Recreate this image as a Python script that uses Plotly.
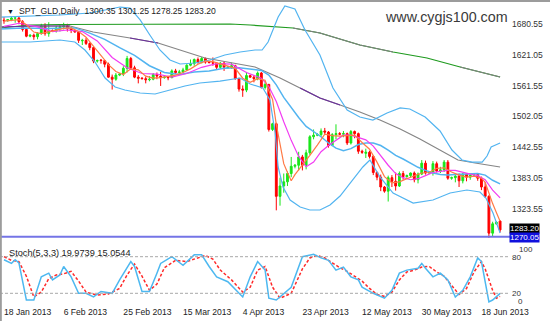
import plotly.graph_objects as go

FONT = "Liberation Sans"
W, H = 550, 321

# ---------------- data ----------------
tick_bars = [0, 16, 32, 48, 64, 80, 96, 112, 128]
tick_dates = ["18 Jan 2013", "6 Feb 2013", "25 Feb 2013", "15 Mar 2013", "4 Apr 2013",
              "23 Apr 2013", "12 May 2013", "30 May 2013", "18 Jun 2013"]

bars = list(range(134))
opens = [1688, 1687, 1689, 1692, 1692, 1685, 1670, 1657, 1659, 1656,
         1662, 1677, 1662, 1668, 1667, 1673, 1675, 1677, 1671, 1668,
         1665, 1648, 1649, 1643, 1635, 1609, 1611, 1610, 1603, 1578,
         1574, 1582, 1584, 1595, 1614, 1596, 1578, 1576, 1575, 1573,
         1574, 1583, 1580, 1577, 1578, 1577, 1590, 1587, 1588, 1592,
         1601, 1604, 1612, 1606, 1614, 1607, 1606, 1605, 1597, 1605,
         1596, 1597, 1600, 1575, 1555, 1553, 1581, 1578, 1575, 1586,
         1558, 1564, 1477, 1488, 1348, 1368, 1376, 1392, 1406, 1408,
         1424, 1408, 1432, 1463, 1466, 1467, 1474, 1472, 1446, 1467,
         1469, 1468, 1469, 1451, 1473, 1469, 1435, 1431, 1433, 1425,
         1394, 1385, 1366, 1358, 1384, 1377, 1368, 1392, 1386, 1388,
         1393, 1380, 1391, 1412, 1393, 1395, 1411, 1397, 1399, 1414,
         1383, 1384, 1387, 1378, 1391, 1385, 1389, 1390, 1383, 1366,
         1348, 1277, 1295, 1300.35]
highs = [1694, 1690, 1695, 1696, 1694, 1688, 1672, 1660, 1662, 1665,
         1681, 1682, 1684, 1670, 1677, 1680, 1683, 1681, 1675, 1669,
         1667, 1652, 1654, 1645, 1637, 1612, 1613, 1611, 1606, 1583,
         1586, 1586, 1599, 1619, 1617, 1600, 1582, 1578, 1579, 1580,
         1586, 1587, 1588, 1580, 1580, 1593, 1594, 1592, 1596, 1603,
         1612, 1614, 1616, 1617, 1616, 1609, 1616, 1607, 1607, 1608,
         1599, 1606, 1602, 1577, 1562, 1588, 1583, 1582, 1589, 1588,
         1568, 1565, 1490, 1490, 1384, 1392, 1396, 1424, 1410, 1434,
         1428, 1438, 1466, 1477, 1470, 1479, 1480, 1474, 1470, 1487,
         1472, 1474, 1471, 1476, 1475, 1471, 1438, 1440, 1436, 1427,
         1396, 1390, 1368, 1388, 1389, 1394, 1396, 1397, 1390, 1394,
         1396, 1394, 1418, 1417, 1396, 1416, 1415, 1405, 1418, 1418,
         1386, 1389, 1392, 1393, 1393, 1392, 1393, 1393, 1386, 1375,
         1350, 1299, 1300, 1301.25]
lows = [1681, 1685, 1686, 1683, 1680, 1666, 1655, 1655, 1650, 1651,
        1660, 1658, 1656, 1666, 1664, 1666, 1670, 1666, 1663, 1664,
        1644, 1640, 1640, 1630, 1605, 1606, 1604, 1597, 1577, 1554,
        1571, 1580, 1580, 1587, 1592, 1576, 1566, 1574, 1566, 1570,
        1572, 1574, 1561, 1575, 1572, 1576, 1584, 1583, 1586, 1591,
        1599, 1600, 1604, 1605, 1604, 1605, 1600, 1592, 1594, 1590,
        1595, 1594, 1573, 1550, 1540, 1549, 1577, 1568, 1572, 1556,
        1554, 1473, 1474, 1321, 1330, 1355, 1368, 1385, 1402, 1398,
        1398, 1400, 1428, 1458, 1464, 1463, 1467, 1442, 1445, 1458,
        1466, 1462, 1447, 1448, 1460, 1430, 1430, 1422, 1421, 1389,
        1379, 1358, 1355, 1338, 1366, 1359, 1366, 1380, 1384, 1384,
        1375, 1373, 1389, 1390, 1391, 1388, 1394, 1393, 1395, 1380,
        1380, 1375, 1366, 1373, 1377, 1380, 1387, 1378, 1360, 1345,
        1268, 1270, 1293, 1278.25]
closes = [1687, 1689, 1692, 1692, 1685, 1670, 1657, 1659, 1656, 1662,
          1677, 1662, 1668, 1667, 1673, 1675, 1677, 1671, 1668, 1665,
          1649, 1649, 1643, 1635, 1609, 1610, 1610, 1603, 1578, 1574,
          1582, 1584, 1595, 1614, 1596, 1578, 1576, 1575, 1573, 1574,
          1583, 1580, 1577, 1578, 1577, 1590, 1587, 1588, 1592, 1601,
          1604, 1612, 1606, 1614, 1607, 1606, 1605, 1597, 1605, 1597,
          1597, 1600, 1575, 1555, 1553, 1581, 1578, 1575, 1586, 1558,
          1564, 1477, 1488, 1348, 1368, 1376, 1392, 1406, 1408, 1424,
          1408, 1432, 1463, 1466, 1467, 1474, 1472, 1446, 1467, 1469,
          1468, 1469, 1451, 1473, 1469, 1435, 1433, 1433, 1425, 1394,
          1385, 1366, 1358, 1384, 1377, 1368, 1392, 1386, 1388, 1393,
          1380, 1391, 1412, 1393, 1395, 1411, 1397, 1399, 1414, 1383,
          1384, 1387, 1378, 1391, 1385, 1389, 1390, 1383, 1366, 1348,
          1277, 1295, 1298, 1283.20]

price_ticks = [1680.55, 1621.05, 1561.55, 1502.05, 1442.55, 1383.05, 1323.55]
last_close = 1283.20
hline_price = 1270.05

# orange fast MA
fast_x = [0, 2, 4, 6, 8, 10, 12, 14, 16, 18, 20, 22, 24, 26, 28, 30, 32, 34, 36, 38, 40, 42, 44, 46,
          48, 50, 52, 54, 56, 58, 60, 62, 64, 66, 68, 70, 71, 72, 73, 74, 75, 76, 77, 78, 80, 82, 84,
          86, 88, 90, 92, 94, 96, 98, 100, 102, 104, 106, 108, 110, 112, 114, 116, 118, 120, 122,
          124, 126, 128, 129, 130, 131, 132, 133]
fast_y = [1686, 1688, 1689, 1679, 1665, 1662, 1665, 1669, 1672, 1673, 1666, 1655, 1637, 1621, 1602,
          1589, 1583, 1594, 1592, 1580, 1576, 1577, 1579, 1582, 1587, 1594, 1603, 1609, 1608, 1604,
          1600, 1595, 1576, 1568, 1575, 1572, 1552, 1535, 1487, 1449, 1411, 1394, 1378, 1390, 1408,
          1427, 1447, 1468, 1465, 1464, 1465, 1466, 1452, 1439, 1414, 1386, 1374, 1376, 1382, 1388,
          1393, 1394, 1402, 1403, 1395, 1389, 1385, 1387, 1383, 1375, 1353, 1334, 1317, 1300]

# magenta MA
mid_x = [0, 4, 9, 13, 17, 21, 25, 29, 33, 37, 41, 45, 49, 53, 57, 61, 65, 69, 71, 73, 75, 77, 79,
         81, 83, 85, 87, 89, 91, 93, 95, 97, 99, 101, 103, 105, 107, 109, 111, 113, 115, 117, 119,
         121, 123, 125, 127, 129, 131, 133]
mid_y = [1676, 1682, 1675, 1666, 1669, 1666, 1648, 1616, 1596, 1585, 1584, 1578, 1585, 1597, 1604,
         1603, 1587, 1576, 1560, 1531, 1492, 1456, 1425, 1405, 1414, 1434, 1446, 1456, 1466, 1466,
         1462, 1457, 1445, 1426, 1408, 1392, 1384, 1380, 1382, 1388, 1394, 1396, 1398, 1398, 1394,
         1391, 1388, 1380, 1360, 1345]

# Bollinger bands
bbm_x = [-1, 5, 12, 19, 23, 27, 31, 35, 39, 43, 47, 51, 55, 59, 63, 67, 69, 71, 73, 75, 77, 79, 81,
         83, 85, 87, 89, 91, 93, 95, 97, 99, 101, 103, 105, 107, 109, 111, 113, 115, 117, 119, 121,
         123, 125, 127, 129, 131, 133]
bbm_y = [1671, 1673, 1672, 1673, 1663, 1651, 1635, 1620, 1600, 1587, 1583, 1588, 1590, 1595, 1596,
         1593, 1591, 1582, 1563, 1539, 1519, 1500, 1483, 1473, 1463, 1451, 1441, 1436, 1440, 1448,
         1451, 1451, 1446, 1437, 1427, 1420, 1412, 1404, 1398, 1393, 1390, 1389, 1390, 1391, 1392,
         1392, 1389, 1379, 1372]
bbu_x = [-1.07, 7.0, 15.0, 23.1, 27.1, 31.1, 33.8, 36.5, 39.1, 41.8, 44.5, 47.2, 51.2, 55.2, 59.2,
         63.3, 67.3, 69.2, 70.8, 72.1, 73.5, 75.3, 78.0, 80.7, 84.7, 88.2, 92.0, 95.4, 98.9, 102.7,
         106.2, 108.8, 112.9, 116.9, 120.1, 122.8, 125.5, 128.2, 129.5, 130.6, 133.0]
bbu_y = [1694.0, 1696.0, 1697.9, 1701.8, 1707.6, 1713.3, 1711.4, 1688.3, 1659.3, 1630.4, 1611.1,
         1603.4, 1605.3, 1611.1, 1620.7, 1626.5, 1630.4, 1630.4, 1645.8, 1669.0, 1694.0, 1715.3,
         1709.5, 1669.0, 1620.7, 1557.0, 1514.6, 1501.1, 1495.3, 1508.8, 1518.5, 1516.5, 1501.1,
         1474.1, 1437.4, 1418.1, 1414.2, 1414.2, 1425.8, 1443.2, 1450.9]
bbl_x = [-1.07, 7.0, 15.0, 19.0, 21.7, 24.4, 27.1, 29.8, 32.4, 36.5, 40.5, 44.5, 48.5, 52.5, 57.9,
         63.3, 66.0, 69.4, 71.3, 72.7, 73.5, 74.8, 76.7, 79.4, 82.0, 84.7, 87.4, 90.1, 93.6, 96.2,
         98.1, 100.8, 104.3, 109.7, 115.0, 119.6, 124.1, 127.6, 129.2, 131.1, 133.0]
bbl_y = [1645.8, 1645.8, 1649.7, 1645.8, 1630.4, 1607.2, 1576.3, 1559.0, 1553.2, 1547.4, 1545.5,
         1553.2, 1560.9, 1566.7, 1570.5, 1576.3, 1564.8, 1557.0, 1533.9, 1470.2, 1404.6, 1366.0,
         1340.9, 1327.4, 1321.6, 1321.6, 1331.3, 1348.6, 1379.5, 1404.6, 1418.1, 1385.3, 1354.4,
         1335.1, 1340.9, 1354.4, 1360.2, 1356.4, 1344.8, 1315.8, 1277.2]

# slow MA (gray / purple)
slow_x = [-1.07, 8.3, 17.7, 23.9, 33.8, 41.3, 53.9, 67.3, 74.0, 79.4, 84.7, 90.1, 95.4, 100.8,
          106.2, 111.5, 116.9, 121.7, 126.3, 133.0]
slow_y = [1674.8, 1676.7, 1676.7, 1665.1, 1653.5, 1643.9, 1614.9, 1597.6, 1576.3, 1557.0, 1537.7,
          1524.2, 1510.7, 1495.3, 1477.9, 1458.6, 1437.4, 1418.1, 1412.3, 1404.6]
slow_purple = [(0, 2), (4, 5), (9, 11)]

# long MA (green / gray)
long_x = [-1.07, 7.0, 15.0, 33.8, 41.3, 60.6, 66.0, 77.5, 84.7, 90.9, 95.4, 104.3, 113.4, 122.3, 133.0]
long_y = [1672.8, 1678.6, 1679.6, 1679.6, 1680.5, 1680.5, 1678.6, 1672.8, 1663.2, 1649.7, 1640.0,
          1626.5, 1614.9, 1597.6, 1578.3]
long_gray = [(7, 11), (13, 14)]

# stochastic
stoch_k_x = [0, 2, 3, 4, 6, 8, 10, 12, 13, 15, 16, 18, 20, 22, 24, 26, 29, 31, 34, 35, 37, 39, 41,
             42, 45, 48, 51, 53, 55, 57, 60, 64, 66, 68, 70, 71, 73, 77, 80, 83, 85, 87, 89, 91, 93,
             95, 96, 99, 102, 104, 106, 108, 111, 112, 113, 115, 117, 119, 121, 123, 125, 127, 128,
             130, 131, 133]
stoch_k = [75, 69, 75, 70, 9, 9, 47, 53, 42, 50, 64, 47, 20, 20, 14, 23, 20, 42, 72, 64, 23, 23, 53,
           69, 80, 66, 83, 83, 64, 47, 39, 14, 47, 72, 58, 12, 9, 30, 80, 84, 78, 74, 58, 63, 47, 42,
           30, 20, 12, 25, 53, 58, 61, 69, 61, 47, 53, 42, 14, 25, 47, 78, 72, 6, 9, 19.9739]
stoch_d_x = [0, 2, 4, 6, 8, 10, 12, 14, 16, 18, 20, 22, 25, 28, 31, 33, 35, 37, 39, 41, 43, 46, 49,
             52, 54, 56, 58, 61, 64, 66, 68, 70, 72, 74, 77, 80, 82, 84, 86, 88, 90, 92, 94, 96, 98,
             100, 102, 104, 106, 108, 110, 112, 114, 116, 118, 120, 122, 124, 126, 128, 129, 131,
             132, 133]
stoch_d = [80, 74, 72, 48, 14, 22, 44, 50, 52, 56, 40, 22, 17, 19, 28, 50, 68, 48, 25, 35, 62, 74,
           72, 78, 82, 76, 58, 42, 22, 30, 58, 64, 30, 12, 20, 60, 78, 82, 78, 70, 62, 56, 48, 40,
           28, 18, 15, 22, 42, 55, 58, 63, 64, 55, 48, 32, 18, 28, 55, 72, 60, 25, 12, 15.0544]

# ---------------- figure ----------------
BB_COL = "#52B4F0"
fig = go.Figure()


def px_x(p):
    return p / W


def px_y(p):
    return 1 - p / H


def line(x, y, color, width=1.2, xa="x", ya="y", dash=None):
    fig.add_trace(go.Scatter(x=x, y=y, mode="lines", xaxis=xa, yaxis=ya, hoverinfo="skip",
                             line=dict(color=color, width=width, dash=dash), showlegend=False))


line(long_x, long_y, "#1E9A1E")
for a, b in long_gray:
    line(long_x[a:b + 1], long_y[a:b + 1], "#7f7f7f")
line(slow_x, slow_y, "#858585")
for a, b in slow_purple:
    line(slow_x[a:b + 1], slow_y[a:b + 1], "#6B2E9C")
line(bbu_x, bbu_y, BB_COL)
line(bbl_x, bbl_y, BB_COL)
line(bbm_x, bbm_y, BB_COL, 1.5)
line(mid_x, mid_y, "#F23CF2")
line(fast_x, fast_y, "#FF7A45")

fig.add_trace(go.Candlestick(
    x=bars, open=opens, high=highs, low=lows, close=closes, xaxis="x", yaxis="y",
    increasing=dict(line=dict(color="#19E619", width=1), fillcolor="#19E619"),
    decreasing=dict(line=dict(color="#FF0000", width=1), fillcolor="#FF0000"),
    whiskerwidth=0, hoverinfo="skip", showlegend=False))

line(stoch_d_x, stoch_d, "#FF2A2A", 1.5, "x2", "y2", "3px,2px")
line(stoch_k_x, stoch_k, "#4DB8F0", 1.5, "x2", "y2")

XDOM = [0, 508 / W]
XR = [-1.07, 135.12]
fig.update_layout(
    width=W, height=H, margin=dict(l=0, r=0, t=0, b=0, autoexpand=False),
    paper_bgcolor="white", plot_bgcolor="white",
    font=dict(family=FONT, size=8.5, color="#222"),
    showlegend=False,
    xaxis=dict(domain=XDOM, range=XR, anchor="y", showticklabels=False, showgrid=False,
               zeroline=False, showline=False, rangeslider=dict(visible=False), fixedrange=True,
               automargin=False),
    yaxis=dict(domain=[px_y(238), px_y(2)], range=[1267.6, 1723.0], side="right", anchor="x",
               tickvals=price_ticks, ticktext=[f"{v:.2f}" for v in price_ticks],
               showgrid=False, zeroline=False, ticks="", ticklabelstandoff=3,
               tickfont=dict(size=8.5, color="#333"), automargin=False),
    xaxis2=dict(domain=XDOM, range=XR, anchor="y2", matches="x", showgrid=False, zeroline=False,
                tickvals=tick_bars, ticktext=tick_dates, ticks="", ticklabelposition="outside right",
                tickangle=0, tickfont=dict(size=8.6, color="#222"), rangeslider=dict(visible=False),
                automargin=False),
    yaxis2=dict(domain=[px_y(305.5), px_y(244.5)], range=[0, 100], side="right", anchor="x2",
                tickvals=[20, 80], ticktext=["20", "80"], showgrid=False, zeroline=False,
                ticks="", ticklabelstandoff=3, tickfont=dict(size=8, color="#333"),
                automargin=False),
)

shapes = []
for lv in (20, 80):
    shapes.append(dict(type="line", xref="x2 domain", yref="y2", x0=0, x1=1.004, y0=lv, y1=lv,
                       line=dict(color="#A8A8A8", width=1, dash="3px,2px")))
shapes.append(dict(type="line", xref="x domain", yref="y", x0=0, x1=1.005, y0=hline_price,
                   y1=hline_price, line=dict(color="#7474E6", width=2)))
shapes.append(dict(type="line", xref="paper", yref="paper", x0=0.0015, x1=0.0015, y0=0, y1=1,
                   line=dict(color="#9C9C9C", width=2)))
shapes.append(dict(type="line", xref="paper", yref="paper", x0=0, x1=1, y0=1 - 1 / H, y1=1 - 1 / H,
                   line=dict(color="#9C9C9C", width=2)))
fig.update_layout(shapes=shapes)

ann = []
ann.append(dict(xref="paper", yref="paper", x=px_x(5), y=px_y(11), xanchor="left", yanchor="middle",
                text="▼", showarrow=False, font=dict(size=7, color="#111")))
ann.append(dict(xref="paper", yref="paper", x=px_x(17), y=px_y(11), xanchor="left", yanchor="middle",
                text="SPT_GLD,Daily&nbsp;&nbsp;" + " ".join(f"{v:.2f}" for v in
                                                       (opens[-1], highs[-1], lows[-1], closes[-1])),
                showarrow=False, font=dict(size=8.6, color="#222")))
ann.append(dict(xref="paper", yref="paper", x=px_x(383), y=px_y(17), xanchor="left", yanchor="middle",
                text="www.cygjs100.com", showarrow=False, font=dict(size=14.3, color="#3A3A3A")))
ann.append(dict(xref="paper", yref="paper", x=px_x(7), y=px_y(253), xanchor="left", yanchor="middle",
                text=f"Stoch(5,3,3) {stoch_k[-1]:.4f} {stoch_d[-1]:.4f}", showarrow=False,
                font=dict(size=9.2, color="#222")))
ann.append(dict(xref="x domain", yref="y", x=1, y=last_close, xanchor="left", yanchor="middle",
                xshift=1, yshift=1, text=f"{last_close:.2f}", showarrow=False, bgcolor="#000000",
                borderpad=0, font=dict(size=8, color="white")))
ann.append(dict(xref="x domain", yref="y", x=1, y=hline_price, xanchor="left", yanchor="middle",
                xshift=1, yshift=-1, text=f"{hline_price:.2f}", showarrow=False, bgcolor="#1010DD",
                borderpad=0, font=dict(size=8, color="white")))
ann.append(dict(xref="paper", yref="paper", x=px_x(517), y=px_y(249), xanchor="left",
                yanchor="middle", text="100", showarrow=False, font=dict(size=8, color="#333")))
ann.append(dict(xref="paper", yref="paper", x=px_x(516), y=px_y(301), xanchor="left",
                yanchor="middle", text="0", showarrow=False, font=dict(size=8, color="#333")))
fig.update_layout(annotations=ann)

fig.write_html("out.html")
